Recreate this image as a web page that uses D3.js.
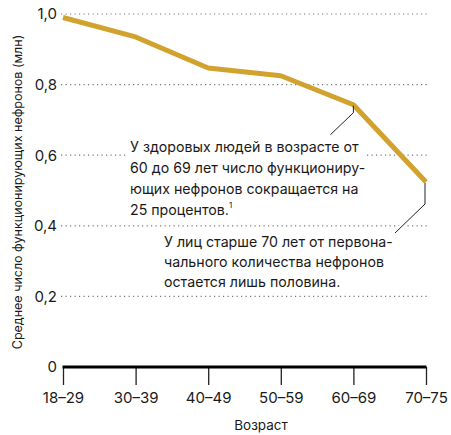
<!DOCTYPE html>
<html><head><meta charset="utf-8">
<script src="https://cdn.jsdelivr.net/npm/d3@7/dist/d3.min.js"></script>
<style>body{margin:0;background:#fff}text{font-family:Inter,"Noto Sans",sans-serif;fill:#1a1a1a}</style>
</head><body><svg id="c" width="451" height="435"></svg>
<script>
const categories = ["18–29","30–39","40–49","50–59","60–69","70–75"];
const values = [0.99, 0.935, 0.847, 0.825, 0.743, 0.524];
const yTicks = [0, 0.2, 0.4, 0.6, 0.8, 1.0];
const yTickLabels = ["0","0,2","0,4","0,6","0,8","1,0"];
const note1 = ["У здоровых людей в возрасте от","60 до 69 лет число функциониру-","ющих нефронов сокращается на","25 процентов."];
const note2 = ["У лиц старше 70 лет от первона-","чального количества нефронов","остается лишь половина."];

const svg = d3.select("#c");
const x = d3.scalePoint().domain(categories).range([63, 426]);
const y = d3.scaleLinear().domain([0, 1]).range([367, 14]);

// grid
svg.append("g").selectAll("line").data(yTicks.filter(d=>d>0)).join("line")
  .attr("x1", 61).attr("x2", 428).attr("y1", d=>y(d)).attr("y2", d=>y(d))
  .attr("stroke", "#777").attr("stroke-width", 1.2).attr("stroke-dasharray", "1.2,3.3");

// y labels
svg.append("g").selectAll("text").data(yTicks).join("text")
  .attr("x", 57).attr("y", d=>y(d)).attr("dy", "0.36em").attr("text-anchor", "end")
  .attr("font-size", 15).text((d,i)=>yTickLabels[i]);

// x axis
const xa = svg.append("g").attr("transform", `translate(0,${y(0)})`)
  .call(d3.axisBottom(x).tickSize(18).tickPadding(7));
xa.select(".domain").remove();
xa.selectAll(".tick line").attr("stroke", "#222").attr("stroke-width", 1.3);
xa.selectAll(".tick text").attr("font-size", 15).attr("font-family", "Inter").attr("fill", "#1a1a1a");
svg.append("line").attr("x1", x(categories[0])-0.5).attr("x2", x(categories[5])+0.5)
  .attr("y1", y(0)).attr("y2", y(0)).attr("stroke", "#000").attr("stroke-width", 3);

// axis titles
svg.append("text").attr("x", 261).attr("y", 425).attr("dy", "0.36em").attr("text-anchor", "middle")
  .attr("font-size", 13.5).text("Возраст");
svg.append("text").attr("transform", "translate(17,192) rotate(-90)").attr("text-anchor", "middle")
  .attr("dy", "0.36em").attr("font-size", 12.5).text("Среднее число функционирующих нефронов (млн)");

// line
svg.append("path").datum(values)
  .attr("d", d3.line().x((d,i)=>x(categories[i])).y(d=>y(d)))
  .attr("fill", "none").attr("stroke", "#d2a22e").attr("stroke-width", 5).attr("stroke-linejoin", "round");

// annotation 1
const p4 = [x(categories[4]), y(values[4])];
svg.append("rect").attr("x", 126).attr("y", 138).attr("width", 238).attr("height", 80).attr("fill", "#fff");
svg.append("path").attr("d", `M${p4[0]},${p4[1]+1}V${p4[1]+8}L${p4[0]-23},${p4[1]+30}`)
  .attr("fill", "none").attr("stroke", "#222").attr("stroke-width", 1);
const t1 = svg.append("text").attr("x", 130).attr("font-size", 14.2);
note1.forEach((s,i)=>{
  const ts = t1.append("tspan").attr("x", 130).attr("y", 152 + i*21).text(s);
  if (i === note1.length-1) t1.append("tspan").attr("font-size", 8).attr("dy", -7).text("1");
});

// annotation 2
const p5 = [x(categories[5]), y(values[5])];
svg.append("path").attr("d", `M${p5[0]-1},${p5[1]+1}V${p5[1]+22}L${p5[0]-31},${p5[1]+51}`)
  .attr("fill", "none").attr("stroke", "#fff").attr("stroke-width", 5);
svg.append("path").attr("d", `M${p5[0]-1},${p5[1]+1}V${p5[1]+22}L${p5[0]-31},${p5[1]+51}`)
  .attr("fill", "none").attr("stroke", "#222").attr("stroke-width", 1);
const t2 = svg.append("text").attr("x", 164).attr("font-size", 14.2);
note2.forEach((s,i)=>{
  t2.append("tspan").attr("x", 164).attr("y", 247 + i*20).text(s);
});
</script></body></html>
